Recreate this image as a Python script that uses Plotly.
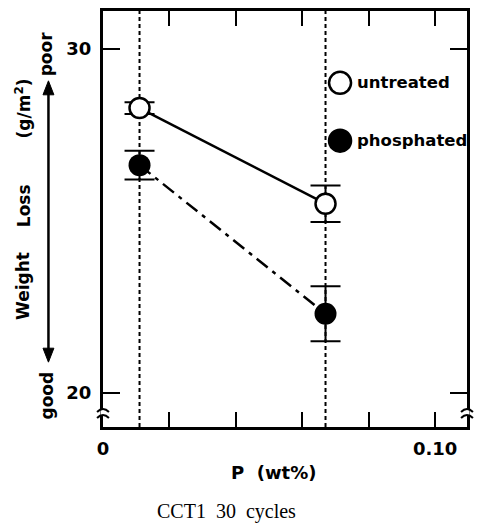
import plotly.graph_objects as go

# Phosphorus content of the two steels (wt%)
p_content = [0.011, 0.067]

# Weight loss after 30 CCT1 cycles (g/m^2) with scatter half-ranges
untreated = [28.28, 25.50]
untreated_err = [0.17, 0.53]
phosphated = [26.62, 22.30]
phosphated_err = [0.42, 0.80]

x_tick_vals = [0, 0.10]
x_tick_text = ["0", "0.10"]
x_minor_step = 0.02
y_tick_vals = [20, 30]
y_tick_text = ["20", "30"]

W, H = 478, 523
L, R, T, B = 103, 8, 10, 96
PW, PH = W - L - R, H - T - B


def px_x(px):
    return (px - L) / PW


def px_y(py):
    return (H - B - py) / PH


def gap(n):
    return "\u00a0" * n


BOLD = "DejaVu Sans"
fig = go.Figure()

fig.add_trace(go.Scatter(
    x=p_content, y=phosphated, mode="lines+markers",
    line=dict(color="black", width=2.5, dash="14px,6px,4px,6px"),
    marker=dict(symbol="circle", size=22, color="black"),
    error_y=dict(type="data", array=phosphated_err, color="black",
                 thickness=2, width=15),
    showlegend=False, name="phosphated",
))
fig.add_trace(go.Scatter(
    x=p_content, y=untreated, mode="lines+markers",
    line=dict(color="black", width=2.5),
    marker=dict(symbol="circle", size=20, color="white",
                line=dict(color="black", width=2.5)),
    error_y=dict(type="data", array=untreated_err, color="black",
                 thickness=2, width=15),
    showlegend=False, name="untreated",
))

shapes = []
# dotted guide lines at the two P contents
for p in p_content:
    shapes.append(dict(type="line", xref="x", yref="paper", x0=p, x1=p,
                       y0=0, y1=1, layer="below",
                       line=dict(color="black", width=2, dash="4px,3px")))

# axis break marks on both vertical axes
for xp in (L, L + PW):
    shapes.append(dict(type="line", xref="paper", yref="paper",
                       x0=px_x(xp), x1=px_x(xp), y0=px_y(409.5), y1=px_y(416),
                       line=dict(color="white", width=5), layer="above"))
    for yy in (410, 416):
        shapes.append(dict(
            type="path", xref="paper", yref="paper", layer="above",
            path=(f"M {px_x(xp - 6)},{px_y(yy + 2)} "
                  f"Q {px_x(xp)},{px_y(yy - 4)} {px_x(xp + 6)},{px_y(yy + 2)}"),
            line=dict(color="black", width=2)))

# double-headed arrow poor <-> good
ax_x, a_top, a_bot = 48, 80, 362
shapes.append(dict(type="line", xref="paper", yref="paper",
                   x0=px_x(ax_x), x1=px_x(ax_x),
                   y0=px_y(a_top + 8), y1=px_y(a_bot - 8),
                   line=dict(color="black", width=2.5)))
for tip, base in ((a_top, a_top + 14), (a_bot, a_bot - 14)):
    shapes.append(dict(
        type="path", xref="paper", yref="paper", fillcolor="black",
        line=dict(color="black", width=1),
        path=(f"M {px_x(ax_x)},{px_y(tip)} L {px_x(ax_x - 5.5)},{px_y(base)} "
              f"L {px_x(ax_x + 5.5)},{px_y(base)} Z")))

# legend symbols
for yy, fill in ((82, "white"), (140, "black")):
    shapes.append(dict(type="circle", xref="paper", yref="paper",
                       xsizemode="pixel", ysizemode="pixel",
                       xanchor=px_x(342), yanchor=px_y(yy),
                       x0=-11, x1=11, y0=-11, y1=11,
                       line=dict(color="black", width=2.5), fillcolor=fill))

annotations = []
# legend labels
for yy, label in ((82, "untreated"), (140, "phosphated")):
    annotations.append(dict(text=label, xref="paper", yref="paper",
                            x=px_x(357), y=px_y(yy), xanchor="left",
                            yanchor="middle", showarrow=False,
                            font=dict(family=BOLD, size=16.5, weight="bold",
                                      color="black")))

# vertical axis description with the quality scale ends
for txt, cx, cy in (("poor", 45, 53), ("(g/m<sup>2</sup>)", 22, 108),
                    ("Loss", 23, 205), ("Weight", 23, 286), ("good", 47, 395)):
    annotations.append(dict(text=txt, xref="paper", yref="paper",
                            x=px_x(cx), y=px_y(cy), xanchor="center",
                            yanchor="middle", textangle=-90, showarrow=False,
                            font=dict(family=BOLD, size=17, weight="bold",
                                      color="black")))

# horizontal axis title and caption
annotations.append(dict(text="P" + gap(2) + "(wt%)", xref="paper",
                        yref="paper", x=px_x(275), y=px_y(473),
                        xanchor="center", yanchor="middle", showarrow=False,
                        font=dict(family=BOLD, size=18, weight="bold",
                                  color="black")))
annotations.append(dict(text="CCT1" + gap(2) + "30" + gap(2) + "cycles",
                        xref="paper", yref="paper",
                        x=px_x(228), y=px_y(512), xanchor="center",
                        yanchor="middle", showarrow=False,
                        font=dict(family="Liberation Serif", size=20,
                                  color="black")))

axis_common = dict(showline=True, linecolor="black", linewidth=3,
                   mirror="ticks", ticks="inside", tickcolor="black",
                   tickwidth=2, showgrid=False, zeroline=False,
                   tickfont=dict(family=BOLD, size=18, weight="bold",
                                 color="black"))

fig.update_layout(
    width=W, height=H,
    margin=dict(l=L, r=R, t=T, b=B),
    paper_bgcolor="white", plot_bgcolor="white",
    xaxis=dict(range=[0, 0.1096], tickmode="array", tickvals=x_tick_vals,
               ticktext=x_tick_text, ticklen=15, ticklabelstandoff=3,
               minor=dict(tick0=0, dtick=x_minor_step, ticks="inside",
                          ticklen=15, tickwidth=2, tickcolor="black",
                          showgrid=False),
               **axis_common),
    yaxis=dict(range=[19.01, 31.10], tickmode="array", tickvals=y_tick_vals,
               ticktext=y_tick_text, ticklen=17, ticklabelstandoff=5,
               **axis_common),
    shapes=shapes, annotations=annotations,
    showlegend=False,
)

fig.write_html("out.html")
